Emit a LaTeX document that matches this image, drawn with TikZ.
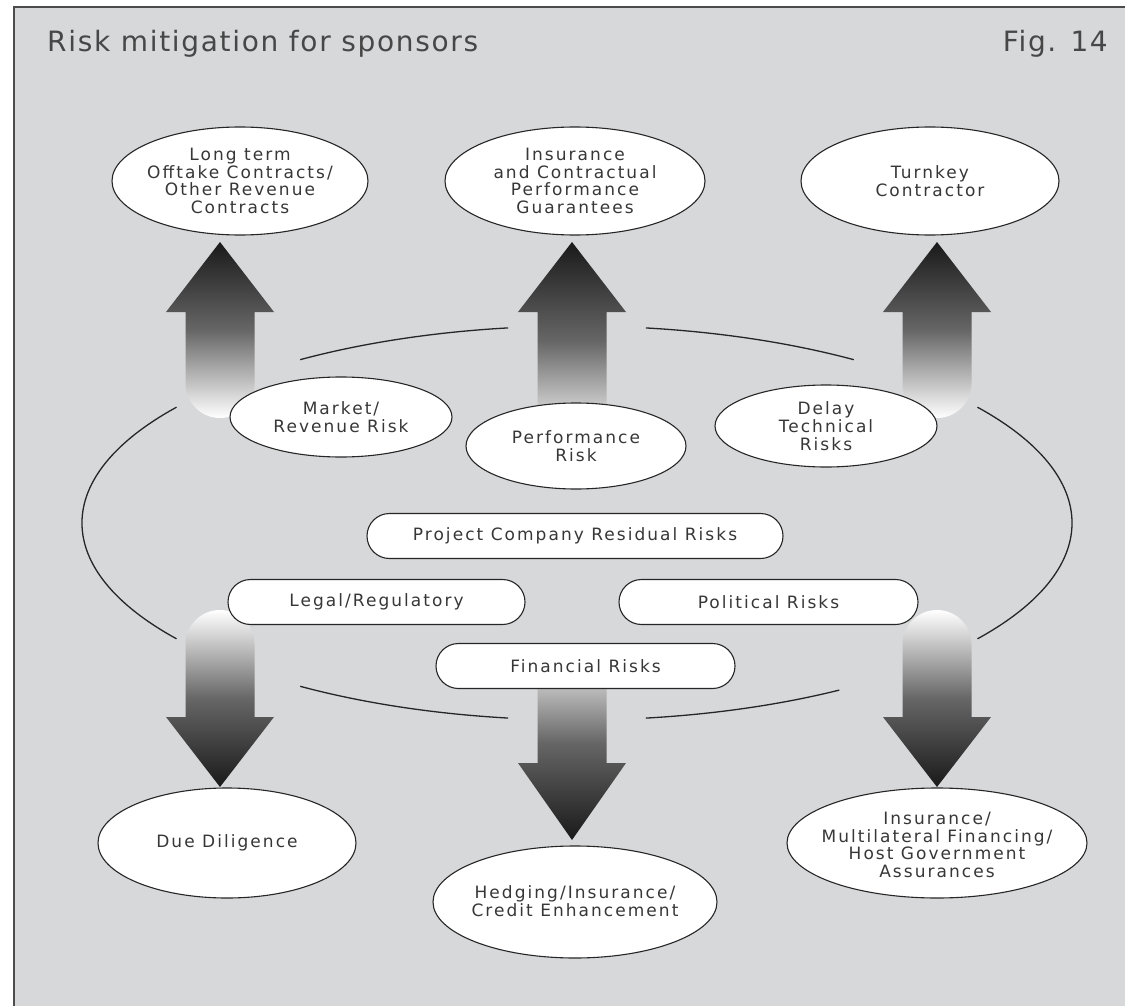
\documentclass[tikz,border=0pt]{standalone}
\usepackage{fontspec}
\setmainfont{DejaVu Sans}
\newfontfamily\bubblefont[LetterSpace=12]{DejaVu Sans}
\newfontfamily\titlefont[LetterSpace=6]{DejaVu Sans}
\definecolor{panel}{RGB}{214,216,218}
\definecolor{ink}{RGB}{55,55,55}

\begin{document}
\begin{tikzpicture}[x=1pt, y=1pt,
  bubble/.style={draw=black!85, fill=white, line width=1.1pt},
  ring/.style={black!85, line width=1.3pt},
  pill/.style={bubble, rounded corners=22.5pt, minimum height=45pt},
  btext/.style={font=\bubblefont\fontsize{17}{17.7}\selectfont, text=ink, align=center},
  heading/.style={font=\titlefont\fontsize{28}{32}\selectfont, text=black!72},
  upshade/.style={top color=black!90, bottom color=white, middle color=black!60},
  downshade/.style={top color=white, bottom color=black!90, middle color=black!60}]
\tikzstyle{every node}+=[inner sep=0pt]
\useasboundingbox (0,0) rectangle (1125,-1006);
\fill [white] (0,0) rectangle (1125,-1006);
\fill [panel] (14,-7) rectangle (1125,-1006);
\draw [black!70, line width=1.5pt] (1125,-7) -- (14,-7) -- (14,-1006);
\draw (47,-44) node (title) [anchor=west, heading] {Risk mitigation for sponsors};
\draw (1108,-44) node (fig) [anchor=east, heading] {Fig. 14};
\coordinate (hub) at (577,-523);
\draw [ring] (508.1,-327.9) arc [start angle=98, end angle=124, x radius=495, y radius=197];
\draw [ring] (853.8,-359.7) arc [start angle=56, end angle=82, x radius=495, y radius=197];
\draw [ring] (977.5,-638.8) arc [start angle=-36, end angle=36, x radius=495, y radius=197];
\draw [ring] (645.9,-718.1) arc [start angle=-82, end angle=-58, x radius=495, y radius=197];
\draw [ring] (300.2,-686.3) arc [start angle=236, end angle=262, x radius=495, y radius=197];
\draw [ring] (176.5,-407.2) arc [start angle=144, end angle=216, x radius=495, y radius=197];
\shade [upshade] (220,-242) -- (274,-312) -- (254.5,-312) -- (254.5,-383.5) arc [start angle=0, end angle=-180, radius=34.5] -- (185.5,-312) -- (166,-312) -- cycle;
\shade [upshade] (572,-242) -- (626,-312) -- (606.5,-312) -- (606.5,-405.5) arc [start angle=0, end angle=-180, radius=34.5] -- (537.5,-312) -- (518,-312) -- cycle;
\shade [upshade] (937,-242) -- (991,-312) -- (971.5,-312) -- (971.5,-383.5) arc [start angle=0, end angle=-180, radius=34.5] -- (902.5,-312) -- (883,-312) -- cycle;
\shade [downshade] (220,-787) -- (166,-717) -- (185.5,-717) -- (185.5,-644.5) arc [start angle=180, end angle=0, radius=34.5] -- (254.5,-717) -- (274,-717) -- cycle;
\shade [downshade] (572,-840) -- (518,-763) -- (537.5,-763) -- (537.5,-680) arc [start angle=180, end angle=0, radius=34.5] -- (606.5,-763) -- (626,-763) -- cycle;
\shade [downshade] (937,-787) -- (883,-717) -- (902.5,-717) -- (902.5,-644.5) arc [start angle=180, end angle=0, radius=34.5] -- (971.5,-717) -- (991,-717) -- cycle;
\draw [bubble] (240,-181) ellipse (128 and 54);
\draw (240,-181) node (offtake) [btext] {Long term\\Offtake Contracts/\\Other Revenue\\Contracts};
\draw [bubble] (575,-181) ellipse (130 and 54);
\draw (575,-181) node (guarantees) [btext] {Insurance\\and Contractual\\Performance\\Guarantees};
\draw [bubble] (930,-181) ellipse (129 and 54);
\draw (930,-181) node (turnkey) [btext] {Turnkey\\Contractor};
\draw [bubble] (341,-417) ellipse (111 and 40);
\draw (341,-417) node (market) [btext] {Market/\\Revenue Risk};
\draw [bubble] (576,-446) ellipse (110 and 43);
\draw (576,-446) node (performance) [btext] {Performance\\Risk};
\draw [bubble] (826,-426) ellipse (111 and 41);
\draw (826,-426) node (delay) [btext] {Delay\\Technical\\Risks};
\draw (575,-536) node (residual) [pill, btext, minimum width=416pt] {Project Company Residual Risks};
\draw (376.5,-602) node (legal) [pill, btext, minimum width=297pt] {Legal/Regulatory};
\draw (768.5,-602) node (political) [pill, btext, minimum width=299pt] {Political Risks};
\draw (585.5,-666) node (financial) [pill, btext, minimum width=299pt] {Financial Risks};
\draw [bubble] (227,-843) ellipse (129 and 55);
\draw (227,-843) node (diligence) [btext] {Due Diligence};
\draw [bubble] (575,-902) ellipse (142 and 56);
\draw (575,-901) node (hedging) [btext] {Hedging/Insurance/\\Credit Enhancement};
\draw [bubble] (937,-843) ellipse (150 and 55);
\draw (937,-845) node (assurances) [btext] {Insurance/\\Multilateral Financing/\\Host Government\\Assurances};
\end{tikzpicture}
\end{document}
